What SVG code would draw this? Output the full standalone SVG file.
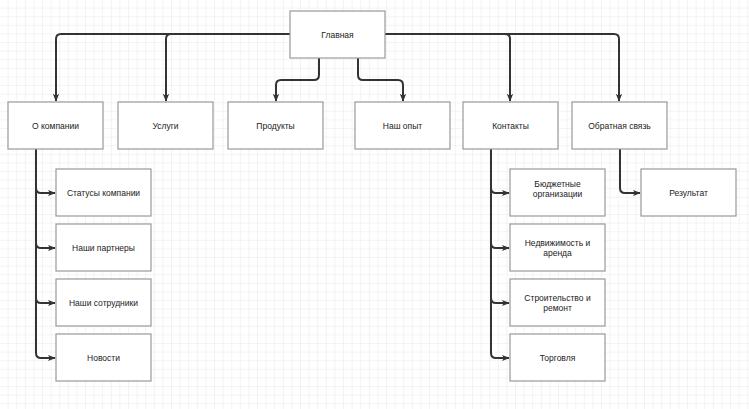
<svg xmlns="http://www.w3.org/2000/svg" width="749" height="409" viewBox="0 0 749 409">
<defs>
<pattern id="g" width="8.6" height="8.6" patternUnits="userSpaceOnUse">
<path d="M8.6 0V8.6M0 8.6H8.6" fill="none" stroke="#e9e9f0" stroke-width="1"/>
</pattern>
<marker id="a" viewBox="0 0 10 10" refX="9" refY="5" markerWidth="4" markerHeight="4" orient="auto" markerUnits="strokeWidth">
<path d="M0 1L10 5L0 9L2.5 5Z" fill="#333"/>
</marker>
<style>
.b{fill:#fff;stroke:#999;stroke-width:1.2}
.t{font-family:"Liberation Sans",Arial,sans-serif;font-size:8.5px;fill:#222;text-anchor:middle}
.c{fill:none;stroke:#333;stroke-width:2;marker-end:url(#a)}
</style>
</defs>
<rect width="749" height="409" fill="#fff"/>
<rect width="749" height="409" fill="url(#g)"/>
<g id="connectors">
<path class="c" d="M290 34H61Q56 34 56 39V101"/>
<path class="c" d="M290 34H171Q166 34 166 39V101"/>
<path class="c" d="M384 34H505Q510 34 510 39V101"/>
<path class="c" d="M384 34H614Q619 34 619 39V101"/>
<path class="c" d="M319 58V75Q319 80 314 80H281Q276 80 276 85V101"/>
<path class="c" d="M358 58V75Q358 80 363 80H398Q403 80 403 85V101"/>
<path class="c" d="M36 149V188Q36 193 41 193H55"/>
<path class="c" d="M36 149V243Q36 248 41 248H55"/>
<path class="c" d="M36 149V298Q36 303 41 303H55"/>
<path class="c" d="M36 149V353Q36 358 41 358H55"/>
<path class="c" d="M491 149V188Q491 193 496 193H509"/>
<path class="c" d="M491 149V243Q491 248 496 248H509"/>
<path class="c" d="M491 149V298Q491 303 496 303H509"/>
<path class="c" d="M491 149V353Q491 358 496 358H509"/>
<path class="c" d="M620 149V188Q620 193 625 193H640"/>
</g>
<g id="main"><rect class="b" x="290" y="11" width="95" height="47"/><text class="t" x="337.5" y="37.5">Главная</text></g>
<g id="about"><rect class="b" x="8" y="102" width="95" height="47"/><text class="t" x="55.5" y="128.5">О компании</text></g>
<g id="services"><rect class="b" x="118" y="102" width="95" height="47"/><text class="t" x="165.5" y="128.5">Услуги</text></g>
<g id="products"><rect class="b" x="228" y="102" width="95" height="47"/><text class="t" x="275.5" y="128.5">Продукты</text></g>
<g id="experience"><rect class="b" x="355" y="102" width="95" height="47"/><text class="t" x="402.5" y="128.5">Наш опыт</text></g>
<g id="contacts"><rect class="b" x="463" y="102" width="95" height="47"/><text class="t" x="510.5" y="128.5">Контакты</text></g>
<g id="feedback"><rect class="b" x="572" y="102" width="95" height="47"/><text class="t" x="619.5" y="128.5">Обратная связь</text></g>
<g id="statuses"><rect class="b" x="56" y="169" width="95" height="47"/><text class="t" x="103.5" y="195.5">Статусы компании</text></g>
<g id="partners"><rect class="b" x="56" y="224" width="95" height="47"/><text class="t" x="103.5" y="250.5">Наши партнеры</text></g>
<g id="staff"><rect class="b" x="56" y="279" width="95" height="47"/><text class="t" x="103.5" y="305.5">Наши сотрудники</text></g>
<g id="news"><rect class="b" x="56" y="334" width="95" height="47"/><text class="t" x="103.5" y="360.5">Новости</text></g>
<g id="budget"><rect class="b" x="510" y="169" width="95" height="47"/><text class="t" x="557.5" y="186.5">Бюджетные</text><text class="t" x="557.5" y="196.5">организации</text></g>
<g id="realty"><rect class="b" x="510" y="224" width="95" height="47"/><text class="t" x="557.5" y="245.5">Недвижимость и</text><text class="t" x="557.5" y="255.5">аренда</text></g>
<g id="construction"><rect class="b" x="510" y="279" width="95" height="47"/><text class="t" x="557.5" y="300.5">Строительство и</text><text class="t" x="557.5" y="310.5">ремонт</text></g>
<g id="trade"><rect class="b" x="510" y="334" width="95" height="47"/><text class="t" x="557.5" y="360.5">Торговля</text></g>
<g id="result"><rect class="b" x="641" y="169" width="95" height="47"/><text class="t" x="688.5" y="195.5">Результат</text></g>
</svg>
